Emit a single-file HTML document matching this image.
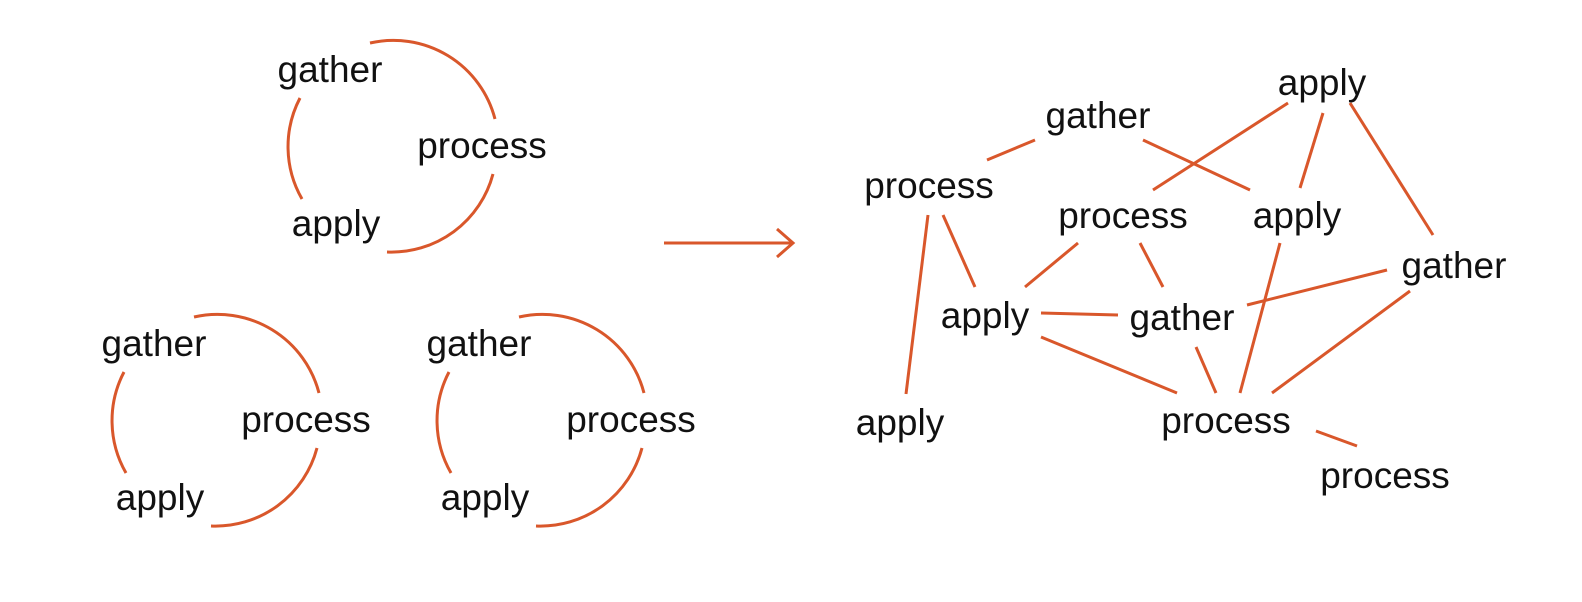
<!DOCTYPE html>
<html><head><meta charset="utf-8"><style>
html,body{margin:0;padding:0;background:#fff;}
svg{display:block;}
text{font-family:"Liberation Sans",Arial,sans-serif;font-size:37px;fill:#111;text-anchor:middle;}
.e{stroke:#d9572b;stroke-width:3;fill:none;stroke-linecap:butt;}
</style></head><body>
<svg width="1582" height="602" viewBox="0 0 1582 602" xmlns="http://www.w3.org/2000/svg">
<defs>
<g id="cyc">
<path class="e" d="M370,43 A105,105 0 0 1 495,119"/>
<path class="e" d="M493,174 A105,105 0 0 1 387,252"/>
<path class="e" d="M302,199 A105,105 0 0 1 300,98"/>
<text x="330" y="82">gather</text>
<text x="482" y="158">process</text>
<text x="336" y="236">apply</text>
</g>
</defs>
<use href="#cyc"/>
<use href="#cyc" transform="translate(-176,274)"/>
<use href="#cyc" transform="translate(149,274)"/>

<path class="e" d="M664,243 L793,243 M777,229 L793,243 L777,257"/>

<g class="e">
<line x1="987" y1="160" x2="1035" y2="140"/>
<line x1="1143" y1="140" x2="1250" y2="190"/>
<line x1="1288" y1="103" x2="1153" y2="190"/>
<line x1="1323" y1="113" x2="1300" y2="188"/>
<line x1="1350" y1="103" x2="1433" y2="235"/>
<line x1="943" y1="215" x2="975" y2="287"/>
<line x1="928" y1="215" x2="906" y2="394"/>
<line x1="1078" y1="243" x2="1025" y2="287"/>
<line x1="1140" y1="243" x2="1163" y2="287"/>
<line x1="1041" y1="313" x2="1118" y2="315"/>
<line x1="1387" y1="270" x2="1247" y2="305"/>
<line x1="1280" y1="243" x2="1240" y2="393"/>
<line x1="1041" y1="337" x2="1177" y2="393"/>
<line x1="1196" y1="347" x2="1216" y2="393"/>
<line x1="1410" y1="291" x2="1272" y2="393"/>
<line x1="1316" y1="431" x2="1357" y2="446"/>
</g>

<text x="1098" y="128">gather</text>
<text x="1322" y="95">apply</text>
<text x="929" y="198">process</text>
<text x="1123" y="228">process</text>
<text x="1297" y="228">apply</text>
<text x="1454" y="278">gather</text>
<text x="985" y="328">apply</text>
<text x="1182" y="330">gather</text>
<text x="900" y="435">apply</text>
<text x="1226" y="433">process</text>
<text x="1385" y="488">process</text>
</svg>
</body></html>
